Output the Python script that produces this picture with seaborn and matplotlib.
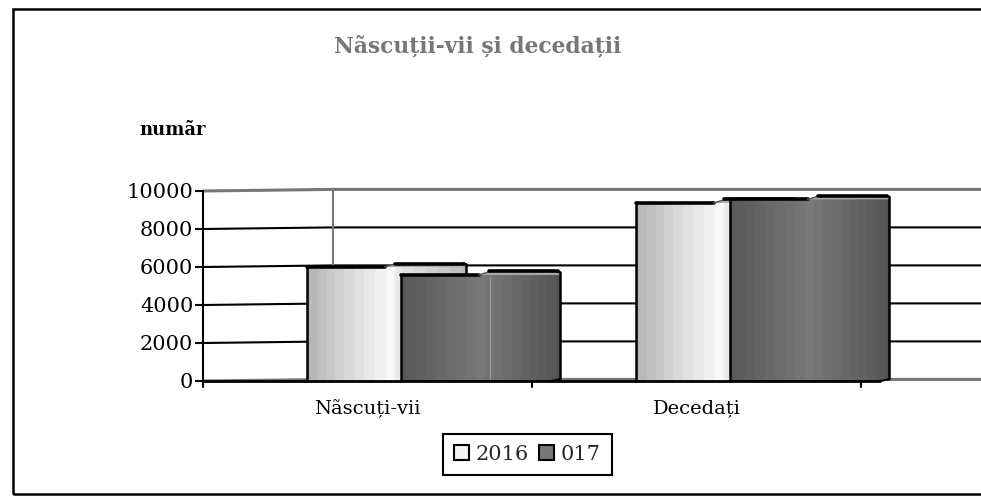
import numpy as np
import pandas as pd
import matplotlib
matplotlib.use("Agg")
import matplotlib.pyplot as plt
from matplotlib.patches import Patch, Polygon, Rectangle
import seaborn as sns

categories = ["Nãscuți-vii", "Decedați"]
series_names = ["2016", "017"]
values_2016 = [6000, 9370]
values_2017 = [5580, 9560]
y_ticks = [0, 2000, 4000, 6000, 8000, 10000]

W, H = 981, 496
PX = 1 / 329  # one category is 329 px wide

sns.set_theme(style="white")
plt.rcParams["font.family"] = ["DejaVu Serif"]

df = pd.DataFrame({
    "cat": categories * 2,
    "year": [series_names[0]] * 2 + [series_names[1]] * 2,
    "val": values_2016 + values_2017,
})

fig = plt.figure(figsize=(W / 100, H / 100), dpi=100, facecolor="white")
ax = fig.add_axes([203 / W, (H - 381) / H, (W - 203) / W, 190 / H])
ax.patch.set_alpha(0)

sns.barplot(data=df, x="cat", y="val", hue="year", hue_order=series_names,
            order=categories, width=188 * PX, gap=0, ax=ax, legend=False,
            palette=["#f2f2f2", "#777777"], zorder=3)

xlim = (-0.5, -0.5 + (W - 203) * PX)
ylim = (0, 10000)


def shade(stops, step):
    xs, cs = zip(*stops)
    t = np.linspace(0, 1, 160)
    band = np.interp(t, xs, cs)
    band = np.round(band / step) * step  # stepped, like the old office gradient
    return np.repeat(band[None, :], 2, axis=0)


light = shade([(0, 178), (0.25, 215), (0.5, 245), (0.54, 245), (0.56, 232), (1, 185)], 8)
dark = shade([(0, 88), (0.5, 120), (1, 84)], 4)

px_y = 10000 / 190
for i, bar in enumerate(ax.patches):
    is_dark = i >= len(categories)
    x0 = bar.get_x() + 33 * PX
    w = 160 * PX
    top = bar.get_height()
    bar.set_x(x0)
    bar.set_width(w)
    bar.set_edgecolor("none")
    z = 4 if is_dark else 3
    bar.set_zorder(z)
    ax.imshow(dark if is_dark else light, cmap="gray", vmin=0, vmax=255,
              extent=(x0, x0 + w, 0, top), aspect="auto", zorder=z,
              interpolation="nearest")
    # little top face and outline of the fake 3d box
    lift = 3.5 * px_y
    cover = Polygon([(x0, top), (x0 + 76 * PX, top), (x0 + 90 * PX, top + lift),
                     (x0 + w, top + lift), (x0 + w, top)], fc="#a8a8a8", ec="none",
                    zorder=z, clip_on=False)
    ax.add_patch(cover)
    ax.plot([x0, x0], [0, top], color="black", lw=1.8, zorder=z, clip_on=False)
    ax.plot([x0, x0 + 78 * PX], [top, top], color="black", lw=2.6, zorder=z, clip_on=False)
    ax.plot([x0 + 78 * PX, x0 + 90 * PX], [top, top + lift], color="#555555", lw=1,
            zorder=z, clip_on=False)
    ax.plot([x0 + 88 * PX, x0 + w - 3 * PX], [top + lift, top + lift], color="black", lw=2.6,
            zorder=z, clip_on=False)
    ax.plot([x0 + w - 3 * PX, x0 + w, x0 + w], [top + lift, top + lift - px_y, 2 * px_y],
            color="black", lw=1.8, zorder=z, clip_on=False)
    ax.plot([x0 + w - 9 * PX, x0 + w], [0, 2 * px_y], color="black", lw=1.5, zorder=z, clip_on=False)
    if is_dark and i == len(categories):
        ax.axvline(x0 + 89 * PX, color="#a0a0a0", lw=0.6, ymax=top / 10000 - 0.01, zorder=z)

# back wall: tilted left part, flat after the corner
wall = xlim[0] + 130 * PX
for t in y_ticks:
    c = "#777777" if t in (0, 10000) else "black"
    lw = 2.2 if t in (0, 10000) else 1.5
    ax.plot([xlim[0], wall, xlim[1]], [t, t + 1.6 * px_y, t + 1.6 * px_y], color=c, lw=lw,
            zorder=1, clip_on=False, solid_capstyle="butt")
ax.plot([wall, wall], [0, 10000 + 1.6 * px_y], color="#777777", lw=1.5, zorder=1, clip_on=False)
ax.plot([xlim[0], xlim[0] + 677 * PX], [0, 0], color="black", lw=2, zorder=5, clip_on=False)

ax.set_xlim(xlim)
ax.set_ylim(ylim)
ax.set_yticks(y_ticks)
ax.set_xlabel("")
ax.set_ylabel("")
ax.set_xticks(range(len(categories)), categories)
ax.tick_params(axis="y", length=6, width=1.5, color="black", labelsize=15, pad=1, left=True, labelcolor="black")
ax.tick_params(axis="x", length=0, labelsize=14, pad=13, labelcolor="black")
for x in [-0.5, 0.5, 1.5]:
    ax.plot([x, x], [0, -6 * px_y], color="black", lw=1.5, clip_on=False, zorder=5)
for s in ["top", "right", "bottom"]:
    ax.spines[s].set_visible(False)
ax.spines["left"].set_linewidth(1.5)
ax.spines["left"].set_color("black")
ax.spines["left"].set_zorder(6)

fig.text(477.5 / W, 1 - 46 / H, "Nãscuții-vii și decedații", ha="center", va="center",
         fontsize=15.7, fontweight="bold", color="#777777")
fig.text(139 / W, 1 - 130 / H, "numãr", ha="left", va="center",
         fontsize=13, fontweight="bold", color="black")

handles = [Patch(fc="#f2f2f2", ec="black", lw=1.5), Patch(fc="#777777", ec="black", lw=1.5)]
fig.legend(handles, series_names, loc="center", bbox_to_anchor=(527.5 / W, 1 - 454.5 / H),
           fontsize=15, ncol=2, frameon=True, fancybox=False, edgecolor="black", framealpha=1,
           handlelength=0.72, handleheight=0.72, handletextpad=0.3, columnspacing=0.5,
           borderpad=0.55, borderaxespad=0).get_frame().set_linewidth(1.5)

fig.add_artist(Rectangle((13 / W, 1 - 494 / H), 1.1, 485.5 / H, transform=fig.transFigure,
                         fill=False, ec="black", lw=1.8))

fig.savefig("out.png", dpi=100)
